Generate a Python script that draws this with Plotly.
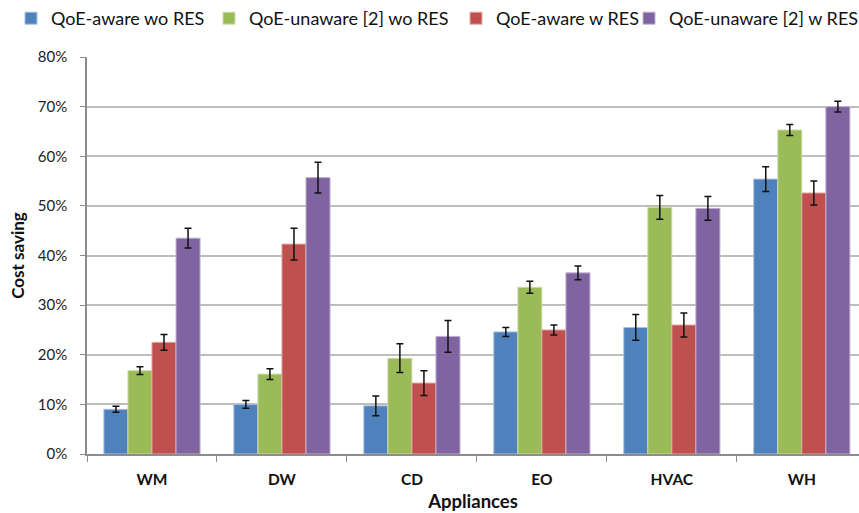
import plotly.graph_objects as go

# Appliance categories and cost-saving results (fractions) with error half-widths
appliances = ["WM", "DW", "CD", "EO", "HVAC", "WH"]

series_names = [
    "QoE-aware wo RES",
    "QoE-unaware [2] wo RES",
    "QoE-aware w RES",
    "QoE-unaware [2] w RES",
]

aware_wo_res = [0.090, 0.100, 0.097, 0.246, 0.255, 0.554]
unaware_wo_res = [0.168, 0.161, 0.193, 0.336, 0.497, 0.653]
aware_w_res = [0.225, 0.423, 0.143, 0.250, 0.260, 0.526]
unaware_w_res = [0.435, 0.557, 0.237, 0.365, 0.495, 0.700]

aware_wo_res_err = [0.006, 0.008, 0.020, 0.009, 0.026, 0.025]
unaware_wo_res_err = [0.008, 0.011, 0.029, 0.012, 0.024, 0.011]
aware_w_res_err = [0.016, 0.032, 0.025, 0.010, 0.024, 0.024]
unaware_w_res_err = [0.020, 0.031, 0.032, 0.014, 0.024, 0.011]

y_ticks = [0, 0.1, 0.2, 0.3, 0.4, 0.5, 0.6, 0.7, 0.8]
y_tick_labels = ["0%", "10%", "20%", "30%", "40%", "50%", "60%", "70%", "80%"]

fill_colors = ["#4F81BD", "#9BBB59", "#C0504D", "#8064A2"]
edge_colors = ["#A9C0DE", "#CDDDAC", "#E0A8A6", "#BFB1D0"]

values = [aware_wo_res, unaware_wo_res, aware_w_res, unaware_w_res]
errors = [aware_wo_res_err, unaware_wo_res_err, aware_w_res_err, unaware_w_res_err]

FONT = "Lato"
WIDTH, HEIGHT = 859, 513
MARGIN_L, MARGIN_R, MARGIN_T, MARGIN_B = 87, 0, 57, 59
PLOT_W = WIDTH - MARGIN_L - MARGIN_R
PLOT_H = HEIGHT - MARGIN_T - MARGIN_B

# left edge (px) of each legend entry across the top strip
legend_left_px = [11, 209, 456, 629]
legend_ids = ["legend", "legend2", "legend3", "legend4"]

fig = go.Figure()
for name, vals, errs, fc, ec, lid in zip(
    series_names, values, errors, fill_colors, edge_colors, legend_ids
):
    fig.add_trace(
        go.Bar(
            name=name,
            x=appliances,
            y=vals,
            legend=lid,
            marker=dict(color=fc, line=dict(color=ec, width=1)),
            error_y=dict(
                type="data",
                array=errs,
                visible=True,
                color="#111111",
                thickness=1.5,
                width=3.5,
            ),
        )
    )

legend_y = 1 + MARGIN_T / PLOT_H
legend_layout = {}
for lid, px in zip(legend_ids, legend_left_px):
    legend_layout[lid] = dict(
        orientation="h",
        xref="paper",
        yref="paper",
        x=(px - MARGIN_L) / PLOT_W,
        y=legend_y,
        xanchor="left",
        yanchor="top",
        font=dict(family=FONT, size=18, color="#111111"),
        itemwidth=30,
        bgcolor="rgba(0,0,0,0)",
    )

fig.update_layout(
    width=WIDTH,
    height=HEIGHT,
    margin=dict(l=MARGIN_L, r=MARGIN_R, t=MARGIN_T, b=MARGIN_B, autoexpand=False),
    paper_bgcolor="white",
    plot_bgcolor="white",
    barmode="group",
    bargap=0.26,
    bargroupgap=0,
    font=dict(family=FONT, color="#222222"),
    showlegend=True,
    **legend_layout,
)

fig.update_xaxes(
    type="category",
    range=[-0.5, 5.44],
    showline=True,
    linecolor="#8C8C8C",
    linewidth=1.5,
    ticks="outside",
    tickson="boundaries",
    ticklen=6,
    tickcolor="#8C8C8C",
    tickwidth=1,
    ticklabelstandoff=11,
    tickfont=dict(family=FONT, size=15.5, color="#111111", weight="bold"),
    showgrid=False,
    title=dict(
        text="Appliances",
        font=dict(family=FONT, size=18.5, color="#111111", weight="bold"),
        standoff=8,
    ),
)

fig.update_yaxes(
    range=[0, 0.8],
    tickvals=y_ticks,
    ticktext=y_tick_labels,
    showline=True,
    linecolor="#8C8C8C",
    linewidth=1.5,
    ticks="outside",
    ticklen=5,
    tickcolor="#8C8C8C",
    tickwidth=1,
    ticklabelstandoff=10,
    tickfont=dict(family=FONT, size=15, color="#222222"),
    showgrid=True,
    gridcolor="#BDBDBD",
    gridwidth=1.5,
    zeroline=False,
    title=dict(
        text="Cost saving",
        font=dict(family=FONT, size=17, color="#111111", weight="bold"),
        standoff=9,
    ),
)

fig.write_html("out.html")
